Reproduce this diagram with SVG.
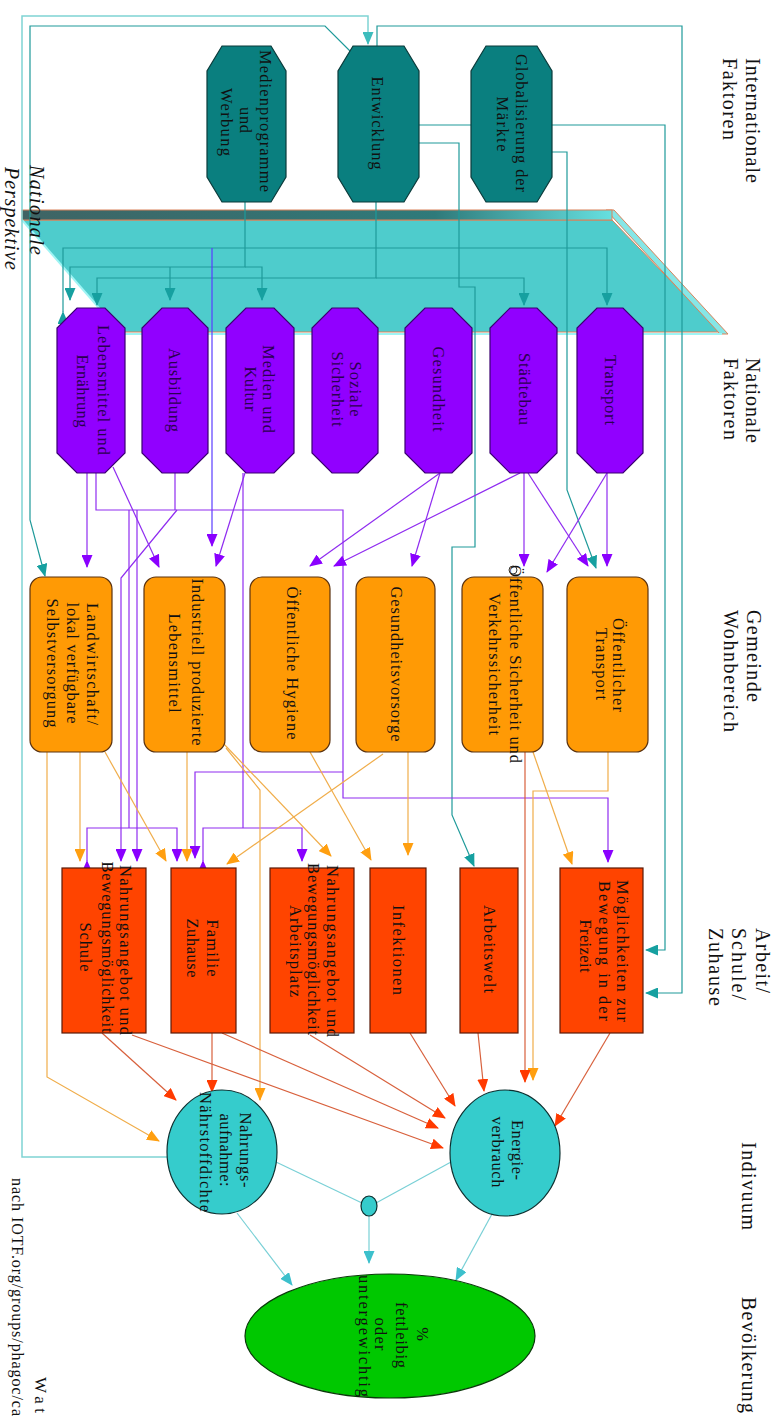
<svg xmlns="http://www.w3.org/2000/svg" width="781" height="1416" viewBox="0 0 781 1416">
<style>
.t{font-family:"Liberation Serif","Times New Roman",serif;font-size:16.5px;fill:#111;text-anchor:middle;dominant-baseline:central}
.tp{fill:#2a0050}
.L{font-family:"Liberation Serif","Times New Roman",serif;font-size:20px;fill:#111;text-anchor:start;dominant-baseline:central}
.it{font-style:italic}
.oi{fill:#0a7f7f;stroke:#0b3b3b;stroke-width:1.2}
.on{fill:#9100ff;stroke:#3a0070;stroke-width:1.2}
.og{fill:#ff9a05;stroke:#5a3210;stroke-width:1.2}
.rd{fill:#ff4400;stroke:#5a1a08;stroke-width:1.2}
.el{fill:#35cccc;stroke:#0c3030;stroke-width:1.2}
.gr{fill:#00c800;stroke:#0a3a0a;stroke-width:1.2}
.c{fill:none;stroke-width:1.2}
.cT{stroke:#1f9a9a}
.cL{stroke:#7fd4d4;stroke-width:1.5}
.cP{stroke:#8f2cf0}
.cB{stroke:#5a3cff}
.cO{stroke:#f0ad4a}
.cR{stroke:#d8603c}
.cC{stroke:#79d0d6}
</style>
<defs>
<marker id="aT" markerWidth="13" markerHeight="11" refX="12" refY="5.5" orient="auto" markerUnits="userSpaceOnUse"><path d="M0,0 L13,5.5 L0,11 Z" fill="#16a0a0"/></marker>
<marker id="aL" markerWidth="13" markerHeight="11" refX="12" refY="5.5" orient="auto" markerUnits="userSpaceOnUse"><path d="M0,0 L13,5.5 L0,11 Z" fill="#3cbcbc"/></marker>
<marker id="aP" markerWidth="13" markerHeight="11" refX="12" refY="5.5" orient="auto" markerUnits="userSpaceOnUse"><path d="M0,0 L13,5.5 L0,11 Z" fill="#8a00ff"/></marker>
<marker id="aO" markerWidth="13" markerHeight="11" refX="12" refY="5.5" orient="auto" markerUnits="userSpaceOnUse"><path d="M0,0 L13,5.5 L0,11 Z" fill="#ff9f10"/></marker>
<marker id="aR" markerWidth="13" markerHeight="11" refX="12" refY="5.5" orient="auto" markerUnits="userSpaceOnUse"><path d="M0,0 L13,5.5 L0,11 Z" fill="#ff3a00"/></marker>
<marker id="aC" markerWidth="13" markerHeight="11" refX="12" refY="5.5" orient="auto" markerUnits="userSpaceOnUse"><path d="M0,0 L13,5.5 L0,11 Z" fill="#3cc0cc"/></marker>
<linearGradient id="band" x1="0" y1="0" x2="1" y2="0">
<stop offset="0" stop-color="#3f6464"/><stop offset="0.7" stop-color="#2f7a7a"/><stop offset="1" stop-color="#66e0e0"/>
</linearGradient>
</defs>

<rect width="781" height="1416" fill="#ffffff"/>

<g id="plane">
<polygon points="22,220 612,220 720,332 120,332" fill="#4ecccc" stroke="#d9825a" stroke-width="1"/>
<polygon points="606,210 614,210 728,334 720,334" fill="#86e6e6" stroke="#d9825a" stroke-width="1"/>
<rect x="22" y="210" width="590" height="10" fill="url(#band)" stroke="#d9825a" stroke-width="1"/>
<line x1="22" y1="220" x2="120" y2="332" stroke="#9ff5f5" stroke-width="2"/>
<line x1="120" y1="334" x2="722" y2="334" stroke="#9ff5f5" stroke-width="2"/>
</g>

<g id="connectors">
<path class="c cL" d="M167,1157 H22 V16 H368 V44" marker-end="url(#aL)"/>
<path class="c cT" d="M352,53 L325,26 H30 V520 L45,576" marker-end="url(#aT)"/>
<path class="c cT" d="M377,46 V26 H682 V993 H646" marker-end="url(#aT)"/>
<path class="c cT" d="M552,125 H665 V950 H646" marker-end="url(#aT)"/>
<path class="c cT" d="M419,125 H471"/>
<path class="c cT" d="M419,143 H459 V287 H475 V547 H452 V815 L474,866" marker-end="url(#aT)"/>
<path class="c cT" d="M552,152 H567 V490 L596,568" marker-end="url(#aT)"/>
<path class="c cT" d="M376,202 V278 H97 V305" marker-end="url(#aT)"/>
<path class="c cT" d="M376,278 H524 V305" marker-end="url(#aT)"/>
<path class="c cT" d="M245,202 V267 H70 V300" marker-end="url(#aT)"/>
<path class="c cT" d="M170,267 V300" marker-end="url(#aT)"/>
<path class="c cT" d="M245,267 H262 V300" marker-end="url(#aT)"/>
<path class="c cT" d="M63,312 V248 H607 V305" marker-start="url(#aT)" marker-end="url(#aT)"/>
<path class="c cB" d="M212,248 V546" marker-end="url(#aP)"/>
<path class="c cP" d="M87,473 V567" marker-end="url(#aP)"/>
<path class="c cP" d="M113,467 L159,567" marker-end="url(#aP)"/>
<path class="c cP" d="M96,473 V510 H343 V798 H608 V862" marker-end="url(#aP)"/>
<path class="c cP" d="M175,473 V510"/>
<path class="c cP" d="M343,772 H195 V858" marker-end="url(#aP)"/>
<path class="c cP" d="M177,510 L121,578 V861" marker-end="url(#aP)"/>
<path class="c cP" d="M129,510 V828"/>
<path class="c cP" d="M137,510 V861" marker-end="url(#aP)"/>
<path class="c cP" d="M87,861 V828 H177 V861" marker-start="url(#aP)" marker-end="url(#aP)"/>
<path class="c cP" d="M245,473 L216,566" marker-end="url(#aP)"/>
<path class="c cP" d="M243,473 V828"/>
<path class="c cP" d="M203,861 V828 H302 V861" marker-start="url(#aP)" marker-end="url(#aP)"/>
<path class="c cP" d="M440,473 L310,566" marker-end="url(#aP)"/>
<path class="c cP" d="M440,473 L412,566" marker-end="url(#aP)"/>
<path class="c cP" d="M520,473 L334,566" marker-end="url(#aP)"/>
<path class="c cP" d="M524,473 V566" marker-end="url(#aP)"/>
<path class="c cP" d="M528,473 L588,566" marker-end="url(#aP)"/>
<path class="c cP" d="M607,473 V566" marker-end="url(#aP)"/>
<path class="c cP" d="M607,473 L547,572" marker-end="url(#aP)"/>
<circle cx="513" cy="570" r="4" fill="#ffffff" stroke="#333" stroke-width="1"/>
<path class="c cO" d="M47,752 V1077 L159,1141" marker-end="url(#aO)"/>
<path class="c cO" d="M80,752 V861" marker-end="url(#aO)"/>
<path class="c cO" d="M105,752 L166,861" marker-end="url(#aO)"/>
<path class="c cO" d="M187,752 V861" marker-end="url(#aO)"/>
<path class="c cO" d="M226,748 L260,790 V1100" marker-end="url(#aO)"/>
<path class="c cO" d="M222,742 L331,856" marker-end="url(#aO)"/>
<path class="c cO" d="M310,752 L371,860" marker-end="url(#aO)"/>
<path class="c cO" d="M408,752 V855" marker-end="url(#aO)"/>
<path class="c cO" d="M383,754 L227,864" marker-end="url(#aO)"/>
<path class="c cO" d="M533,752 L572,864" marker-end="url(#aO)"/>
<path class="c cO" d="M608,752 V791 H533 V1080" marker-end="url(#aO)"/>
<path class="c cR" d="M525,752 V1082" marker-end="url(#aR)"/>
<path class="c cR" d="M102,1033 L176,1100" marker-end="url(#aR)"/>
<path class="c cR" d="M132,1035 L443,1148" marker-end="url(#aR)"/>
<path class="c cR" d="M212,1033 V1092" marker-end="url(#aR)"/>
<path class="c cR" d="M222,1033 L438,1128" marker-end="url(#aR)"/>
<path class="c cR" d="M310,1035 L445,1118" marker-end="url(#aR)"/>
<path class="c cR" d="M410,1033 L455,1106" marker-end="url(#aR)"/>
<path class="c cR" d="M478,1033 L484,1091" marker-end="url(#aR)"/>
<path class="c cR" d="M610,1033 L555,1126" marker-end="url(#aR)"/>
<path class="c cC" d="M237,1213 L292,1285" marker-end="url(#aC)"/>
<path class="c cC" d="M492,1214 L456,1280" marker-end="url(#aC)"/>
<path class="c cC" d="M276,1162 L362,1203"/>
<path class="c cC" d="M451,1162 L376,1203"/>
<path class="c cC" d="M369,1216 V1263" marker-end="url(#aC)"/>
</g>

<g id="labels">
<text class="L" transform="translate(753,58) rotate(90)" textLength="125">Internationale</text>
<text class="L" transform="translate(730,58) rotate(90)" textLength="82">Faktoren</text>
<text class="L" transform="translate(753,358) rotate(90)" textLength="85">Nationale</text>
<text class="L" transform="translate(731,358) rotate(90)" textLength="82">Faktoren</text>
<text class="L" transform="translate(754,610) rotate(90)" textLength="92">Gemeinde</text>
<text class="L" transform="translate(731,610) rotate(90)" textLength="122">Wohnbereich</text>
<text class="L" transform="translate(763,928) rotate(90)" textLength="65">Arbeit/</text>
<text class="L" transform="translate(739,928) rotate(90)" textLength="72">Schule/</text>
<text class="L" transform="translate(716,928) rotate(90)" textLength="78">Zuhause</text>
<text class="L" transform="translate(749,1142) rotate(90)" textLength="88">Indivuum</text>
<text class="L" transform="translate(749,1297) rotate(90)" textLength="116">Bevölkerung</text>
<text class="L it" transform="translate(37,165) rotate(90)" textLength="90">Nationale</text>
<text class="L it" transform="translate(12,167) rotate(90)" textLength="103">Perspektive</text>
<text class="L" style="font-size:17px" transform="translate(40,1377) rotate(90)" textLength="36">Wat</text>
<text class="L" style="font-size:16px" transform="translate(17,1178) rotate(90)" textLength="238">nach IOTF.org/groups/phagoc/ca</text>
</g>

<g id="n-medien-werbung">
<path class="oi" d="M222,46 H271 L286,71 V177 L271,202 H222 L207,177 V71 Z"/>
<text class="t" transform="translate(265,121) rotate(90)" textLength="142">Medienprogramme</text>
<text class="t" transform="translate(245,120) rotate(90)" textLength="26">und</text>
<text class="t" transform="translate(226,122) rotate(90)" textLength="68">Werbung</text>
</g>
<g id="n-entwicklung">
<path class="oi" d="M353,46 H404 L419,71 V177 L404,202 H353 L338,177 V71 Z"/>
<text class="t" transform="translate(377,123) rotate(90)" textLength="93">Entwicklung</text>
</g>
<g id="n-globalisierung">
<path class="oi" d="M486,46 H537 L552,71 V177 L537,202 H486 L471,177 V71 Z"/>
<text class="t" transform="translate(521,123) rotate(90)" textLength="138">Globalisierung der</text>
<text class="t" transform="translate(502,124) rotate(90)" textLength="55">Märkte</text>
</g>

<g id="n-lebensmittel">
<path class="on" d="M77,308 H105 L125,328 V453 L105,473 H77 L57,453 V328 Z"/>
<text class="t tp" transform="translate(103,390) rotate(90)" textLength="130">Lebensmittel und</text>
<text class="t tp" transform="translate(82,391) rotate(90)" textLength="73">Ernährung</text>
</g>
<g id="n-ausbildung">
<path class="on" d="M162,308 H188 L208,328 V453 L188,473 H162 L142,453 V328 Z"/>
<text class="t tp" transform="translate(174,390) rotate(90)" textLength="84">Ausbildung</text>
</g>
<g id="n-medien-kultur">
<path class="on" d="M246,308 H274 L294,328 V453 L274,473 H246 L226,453 V328 Z"/>
<text class="t tp" transform="translate(268,389) rotate(90)" textLength="88">Medien und</text>
<text class="t tp" transform="translate(250,389) rotate(90)" textLength="45">Kultur</text>
</g>
<g id="n-soziale">
<path class="on" d="M332,308 H358 L378,328 V453 L358,473 H332 L312,453 V328 Z"/>
<text class="t tp" transform="translate(355,389) rotate(90)" textLength="55">Soziale</text>
<text class="t tp" transform="translate(337,389) rotate(90)" textLength="75">Sicherheit</text>
</g>
<g id="n-gesundheit">
<path class="on" d="M425,308 H452 L472,328 V453 L452,473 H425 L405,453 V328 Z"/>
<text class="t tp" transform="translate(438,389) rotate(90)" textLength="85">Gesundheit</text>
</g>
<g id="n-staedtebau">
<path class="on" d="M510,308 H537 L557,328 V453 L537,473 H510 L490,453 V328 Z"/>
<text class="t tp" transform="translate(524,389) rotate(90)" textLength="72">Städtebau</text>
</g>
<g id="n-transport">
<path class="on" d="M597,308 H623 L643,328 V453 L623,473 H597 L577,453 V328 Z"/>
<text class="t tp" transform="translate(610,390) rotate(90)" textLength="70">Transport</text>
</g>

<g id="n-landwirtschaft">
<rect class="og" x="30" y="577" width="82" height="175" rx="12"/>
<text class="t" transform="translate(92,664) rotate(90)" textLength="122">Landwirtschaft/</text>
<text class="t" transform="translate(72,663) rotate(90)" textLength="121">lokal verfügbare</text>
<text class="t" transform="translate(52,663) rotate(90)" textLength="129">Selbstversorgung</text>
</g>
<g id="n-industriell">
<rect class="og" x="144" y="577" width="81" height="175" rx="12"/>
<text class="t" transform="translate(197,662) rotate(90)" textLength="167">Industriell produzierte</text>
<text class="t" transform="translate(174,663) rotate(90)" textLength="99">Lebensmittel</text>
</g>
<g id="n-hygiene">
<rect class="og" x="250" y="577" width="80" height="175" rx="12"/>
<text class="t" transform="translate(292,663) rotate(90)" textLength="153">Öffentliche Hygiene</text>
</g>
<g id="n-vorsorge">
<rect class="og" x="356" y="577" width="79" height="175" rx="12"/>
<text class="t" transform="translate(396,664) rotate(90)" textLength="155">Gesundheitsvorsorge</text>
</g>
<g id="n-sicherheit">
<rect class="og" x="462" y="577" width="81" height="175" rx="12"/>
<text class="t" transform="translate(515,664) rotate(90)" textLength="198">Öffentliche Sicherheit und</text>
<text class="t" transform="translate(494,664) rotate(90)" textLength="142">Verkehrssicherheit</text>
</g>
<g id="n-oeff-transport">
<rect class="og" x="567" y="577" width="81" height="175" rx="12"/>
<text class="t" transform="translate(618,665) rotate(90)" textLength="94">Öffentlicher</text>
<text class="t" transform="translate(601,664) rotate(90)" textLength="72">Transport</text>
</g>

<g id="n-schule">
<rect class="rd" x="62" y="868" width="84" height="165"/>
<text class="t" transform="translate(125,950) rotate(90)" textLength="170">Nahrungsangebot und</text>
<text class="t" transform="translate(107,947) rotate(90)" textLength="171">Bewegungsmöglichkeit</text>
<text class="t" transform="translate(85,947) rotate(90)" textLength="49">Schule</text>
</g>
<g id="n-familie">
<rect class="rd" x="171" y="868" width="65" height="165"/>
<text class="t" transform="translate(212,948) rotate(90)" textLength="57">Familie</text>
<text class="t" transform="translate(192,948) rotate(90)" textLength="59">Zuhause</text>
</g>
<g id="n-arbeitsplatz">
<rect class="rd" x="270" y="868" width="84" height="165"/>
<text class="t" transform="translate(332,951) rotate(90)" textLength="172">Nahrungsangebot und</text>
<text class="t" transform="translate(313,949) rotate(90)" textLength="172">Bewegungsmöglichkeit</text>
<text class="t" transform="translate(295,951) rotate(90)" textLength="92">Arbeitsplatz</text>
</g>
<g id="n-infektionen">
<rect class="rd" x="370" y="868" width="56" height="165"/>
<text class="t" transform="translate(398,950) rotate(90)" textLength="90">Infektionen</text>
</g>
<g id="n-arbeitswelt">
<rect class="rd" x="460" y="868" width="58" height="165"/>
<text class="t" transform="translate(489,949) rotate(90)" textLength="88">Arbeitswelt</text>
</g>
<g id="n-freizeit">
<rect class="rd" x="560" y="868" width="83" height="165"/>
<text class="t" transform="translate(622,951) rotate(90)" textLength="142">Möglichkeiten zur</text>
<text class="t" transform="translate(604,951) rotate(90)" textLength="140">Bewegung in der</text>
<text class="t" transform="translate(585,946) rotate(90)" textLength="53">Freizeit</text>
</g>

<g id="n-nahrungsaufnahme">
<ellipse class="el" cx="222" cy="1152" rx="55" ry="62"/>
<text class="t" transform="translate(245,1150) rotate(90)" textLength="75">Nahrungs-</text>
<text class="t" transform="translate(225,1150) rotate(90)" textLength="73">aufnahme:</text>
<text class="t" transform="translate(205,1152) rotate(90)" textLength="120">Nährstoffdichte</text>
</g>
<g id="n-energie">
<ellipse class="el" cx="505" cy="1153" rx="55" ry="63"/>
<text class="t" transform="translate(517,1150) rotate(90)" textLength="60">Energie-</text>
<text class="t" transform="translate(497,1152) rotate(90)" textLength="71">verbrauch</text>
</g>
<g id="n-join">
<ellipse class="el" cx="369" cy="1206" rx="8" ry="10"/>
</g>
<g id="n-bevoelkerung">
<ellipse class="gr" cx="390" cy="1336" rx="145" ry="62"/>
<text class="t" transform="translate(422,1334) rotate(90)">%</text>
<text class="t" transform="translate(401,1335) rotate(90)" textLength="66">fettleibig</text>
<text class="t" transform="translate(380,1334) rotate(90)" textLength="33">oder</text>
<text class="t" transform="translate(364,1336) rotate(90)" textLength="122">untergewichtig</text>
</g>
</svg>
